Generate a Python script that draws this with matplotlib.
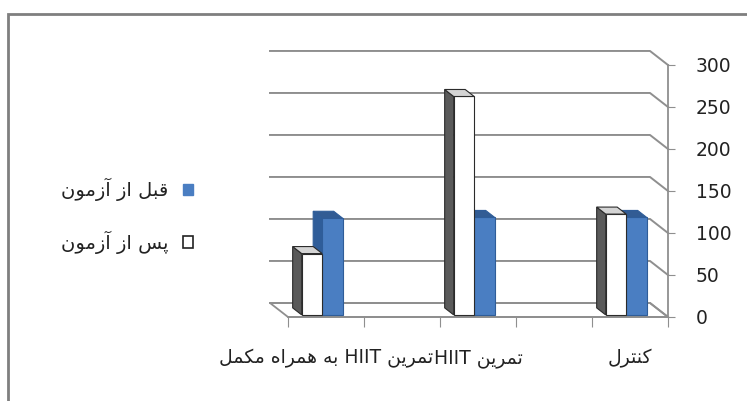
import numpy as np
import matplotlib.pyplot as plt
from matplotlib.patches import Polygon, Rectangle, Patch

# data, categories in logical (right to left) order
categories = ['کنترل', 'تمرین HIIT', 'تمرین HIIT به همراه مکمل']
before_test = [116, 116, 115]
after_test = [120, 260, 73]
series_names = ['قبل از آزمون', 'پس از آزمون']
y_ticks = [0, 50, 100, 150, 200, 250, 300]

# presentation forms for the letters used (isolated, final, initial, medial)
forms = {
    '\u0627': ('\uFE8D', '\uFE8E'),
    '\u0622': ('\uFE81', '\uFE82'),
    '\u0631': ('\uFEAD', '\uFEAE'),
    '\u0632': ('\uFEAF', '\uFEB0'),
    '\u0648': ('\uFEED', '\uFEEE'),
    '\u0628': ('\uFE8F', '\uFE90', '\uFE91', '\uFE92'),
    '\u067E': ('\uFB56', '\uFB57', '\uFB58', '\uFB59'),
    '\u062A': ('\uFE95', '\uFE96', '\uFE97', '\uFE98'),
    '\u0633': ('\uFEB1', '\uFEB2', '\uFEB3', '\uFEB4'),
    '\u0642': ('\uFED5', '\uFED6', '\uFED7', '\uFED8'),
    '\u06A9': ('\uFB8E', '\uFB8F', '\uFB90', '\uFB91'),
    '\u0644': ('\uFEDD', '\uFEDE', '\uFEDF', '\uFEE0'),
    '\u0645': ('\uFEE1', '\uFEE2', '\uFEE3', '\uFEE4'),
    '\u0646': ('\uFEE5', '\uFEE6', '\uFEE7', '\uFEE8'),
    '\u0647': ('\uFEE9', '\uFEEA', '\uFEEB', '\uFEEC'),
    '\u06CC': ('\uFBFC', '\uFBFD', '\uFBFE', '\uFBFF'),
}


def shape(word):
    out = ''
    for i, ch in enumerate(word):
        f = forms[ch]
        prev = word[i - 1] if i > 0 else None
        nxt = word[i + 1] if i < len(word) - 1 else None
        jp = prev in forms and len(forms[prev]) == 4
        jn = nxt in forms and len(f) == 4
        out += f[int(jp) + 2 * int(jn)]
    return out


def rtl(text):
    words = text.split(' ')[::-1]
    return ' '.join(shape(w)[::-1] if w[0] in forms else w for w in words)


W, H = 747, 401
fig = plt.figure(figsize=(W / 100, H / 100), dpi=100)
ax = fig.add_axes([288 / W, (H - 317) / H, 380 / W, 252 / H])

n_slots = 2 * len(categories) - 1
pos = np.arange(len(categories)) * 2 + 0.5
ax.set_xlim(n_slots, 0)
ax.set_ylim(0, 300)

grid_c = '#8f8f8f'
DX, DY = 0.237, 16.7   # floor depth in data units

# floor and walls
floor = Polygon([(0, 0), (n_slots, 0), (n_slots + DX, DY), (DX, DY)],
                closed=True, fc='white', ec=grid_c, lw=1.3, clip_on=False, zorder=1)
ax.add_patch(floor)
for y in y_ticks:
    ax.plot([n_slots + DX, DX, 0], [y + DY, y + DY, y], color=grid_c, lw=1.4,
            clip_on=False, zorder=1)

# bars
blue, blue_side, blue_top = '#4a7ec2', '#2f5d99', '#325c94'
fx, fy = 0.15 * DX, 0.15 * DY
bdx, bdy = 0.5 * DX, 0.5 * DY
w = 0.27


def bar3d(x0, v, face, side, top, edge):
    ax.bar(x0 + fx, v, w, bottom=fy, align='edge', color=face,
           edgecolor=edge, lw=0.8, zorder=3, clip_on=False)
    x1 = x0 + fx + w
    xa = x0 + fx
    ax.add_patch(Polygon([(x1, fy), (x1, fy + v), (x1 + bdx, fy + v + bdy), (x1 + bdx, fy + bdy)],
                         closed=True, fc=side, ec=edge, lw=0.8, zorder=3, clip_on=False))
    ax.add_patch(Polygon([(xa, fy + v), (x1, fy + v), (x1 + bdx, fy + v + bdy), (xa + bdx, fy + v + bdy)],
                         closed=True, fc=top, ec=edge, lw=0.8, zorder=3, clip_on=False))


for p, b, a in zip(pos, before_test, after_test):
    bar3d(p - 0.22 - fx, b, blue, blue_side, blue_top, blue_side)
    bar3d(p + 0.05 - fx, a, 'white', '#5a5a5a', '#d4d4d4', '#2b2b2b')

# axes
for s in ['left', 'top']:
    ax.spines[s].set_visible(False)
for s in ['right', 'bottom']:
    ax.spines[s].set_color(grid_c)
    ax.spines[s].set_linewidth(1.3)
ax.patch.set_visible(False)
ax.yaxis.tick_right()
ax.set_yticks(y_ticks)
ax.tick_params(axis='y', direction='out', length=5, color=grid_c, pad=15,
               labelsize=13.5, labelcolor='#222222')
ax.set_xticks(np.arange(n_slots + 1))
ax.set_xticklabels([])
ax.tick_params(axis='x', which='major', direction='out', length=7, color=grid_c)
ax.set_xticks(pos, [rtl(c) for c in categories], minor=True)
ax.tick_params(axis='x', which='minor', length=0, pad=23, labelsize=13.5,
               labelcolor='#222222')

# legend (marker on the right)
handles = [Patch(fc=blue, ec=blue), Patch(fc='white', ec='#222222', lw=1.2)]
ax.legend(handles, [rtl(s) for s in series_names], loc='center right',
          bbox_to_anchor=(203 / W, (H - 216) / H), bbox_transform=fig.transFigure,
          frameon=False, markerfirst=False, handlelength=0.55, handleheight=0.55,
          handletextpad=0.75, labelspacing=1.5, borderpad=0, fontsize=14,
          labelcolor='#222222')

# chart border
fig.patches.append(Rectangle((8 / W, -0.1), 1.2, (H - 14) / H + 0.1, transform=fig.transFigure,
                             fill=False, ec='#7f7f7f', lw=2, figure=fig))

fig.savefig('out.png', dpi=100)
